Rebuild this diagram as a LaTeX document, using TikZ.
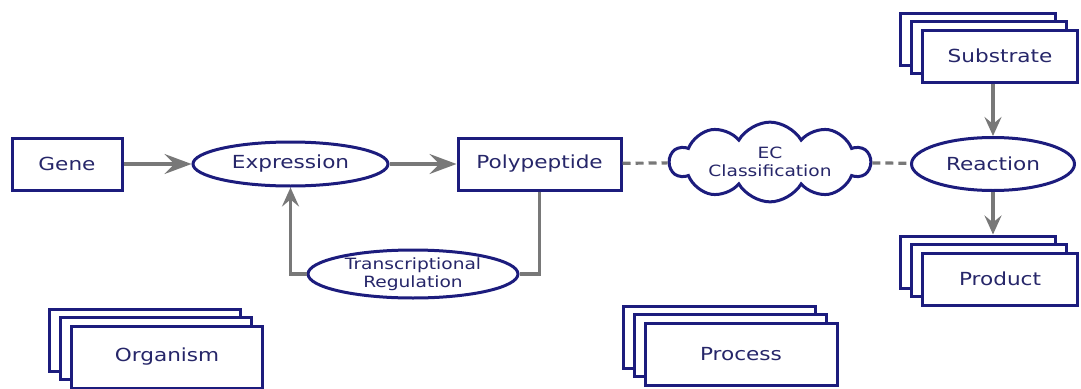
\documentclass[tikz,border=0pt]{standalone}
\usepackage{fontspec}
\newfontfamily\diafont[FakeStretch=1.2]{DejaVu Sans}
\usetikzlibrary{arrows.meta,positioning,shapes.geometric,shapes.symbols,shadows}
\definecolor{navy}{RGB}{28,28,125}
\definecolor{inkblue}{RGB}{38,38,105}
\definecolor{linegray}{RGB}{120,120,120}

\begin{document}
\begin{tikzpicture}[
  x=1pt, y=-1pt,
  txt/.style={text=inkblue, font=\diafont\fontsize{18}{21}\selectfont},
  smalltxt/.style={text=inkblue, font=\diafont\fontsize{15.5}{18}\selectfont, align=center},
  box/.style={txt, draw=navy, line width=3pt, fill=white, inner sep=0pt,
              minimum height=52pt},
  oval/.style={txt, ellipse, draw=navy, line width=3pt, fill=white, inner sep=0pt},
  stack/.style={box, double copy shadow={shadow xshift=-11pt, shadow yshift=8.5pt,
                draw=navy, fill=white, line width=3pt}},
  arr/.style={-{Stealth[length=19pt, width=17pt, inset=7pt]}, draw=linegray, line width=3.2pt},
  harr/.style={arr, -{Stealth[length=27pt, width=20pt, inset=10pt]}},
  link/.style={draw=linegray, line width=3.2pt},
  dashlink/.style={link, dash pattern=on 8pt off 5pt}
]
\useasboundingbox (0,0) rectangle (1081,388);

% main chain
\node[box, minimum width=110pt] (gene) at (67,164) {Gene};
\node[oval, minimum width=195pt, minimum height=44pt, right=68pt of gene] (expr) {Expression};
\node[box, minimum width=163pt, right=67pt of expr] (poly) {Polypeptide};
\node[cloud, cloud puffs=10, cloud puff arc=120, aspect=3.4, draw=navy, line width=3pt,
      fill=white, smalltxt, minimum width=200pt, minimum height=56pt, inner sep=0pt]
      (ec) at (770,162) {EC\\Classification};
\node[oval, minimum width=163pt, minimum height=53pt] (react) at (993,164) {Reaction};

% stacks
\node[stack, minimum width=155pt] (subs) at (1000,56) {Substrate};
\node[stack, minimum width=155pt] (prod) at (1000,279) {Product};
\node[stack, minimum width=191pt, minimum height=62pt] (org) at (167,357) {Organism};
\node[stack, minimum width=192pt, minimum height=62pt] (proc) at (741,354) {Process};

% feedback
\node[oval, smalltxt, minimum width=210pt, minimum height=48pt] (treg) at (413,274)
      {Transcriptional\\Regulation};

\draw[harr] (gene) -- (expr);
\draw[harr] (expr) -- (poly);
\draw[dashlink] (poly) -- (ec);
\draw[dashlink] (ec) -- (react);
\draw[arr] (subs.south -| react.north) -- (react);
\draw[arr] (react) -- ([yshift=17pt]prod.north -| react.south);
\draw[link] (poly.south) |- (treg.east);
\draw[arr] (treg.west) -| (expr.south);
\end{tikzpicture}
\end{document}
